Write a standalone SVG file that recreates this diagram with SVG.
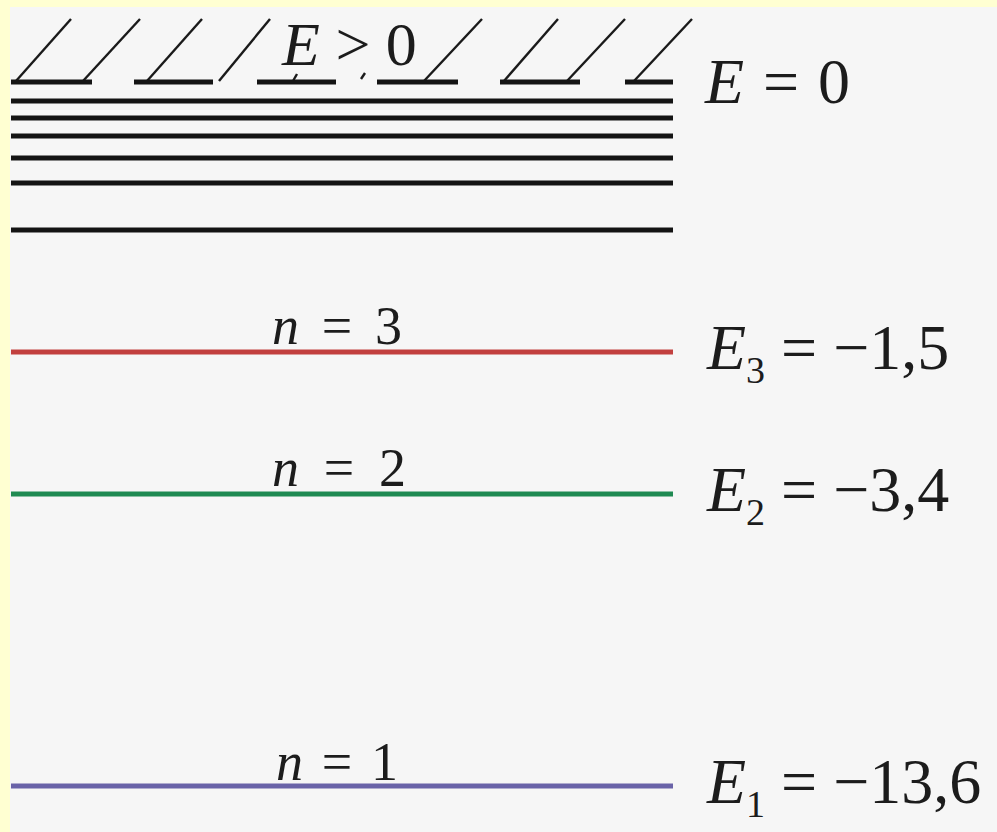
<svg xmlns="http://www.w3.org/2000/svg" width="997" height="832" viewBox="0 0 997 832">
<style>
.lvl{stroke-width:5;fill:none;stroke-linecap:butt}
.blk{stroke:#141414}
.hatch{stroke:#1a1a1a;stroke-width:2.4;fill:none}
text{font-family:"Liberation Serif","Times New Roman",serif;fill:#1c1c1c}
.it{font-style:italic}
.lab{font-size:54px}
.top{font-size:62px}
.en{font-size:64px}
.sub{font-size:38px}
</style>
<rect x="0" y="0" width="997" height="832" fill="#FFFFD2"/>
<rect x="10" y="7" width="987" height="825" fill="#F6F6F6"/>
<g id="continuum">
<g class="hatch">
<line x1="16" y1="81" x2="71" y2="19"/>
<line x1="83" y1="81" x2="140" y2="19"/>
<line x1="147" y1="81" x2="202" y2="19"/>
<line x1="219" y1="81" x2="270" y2="19"/>
<line x1="293" y1="81" x2="297" y2="74"/>
<line x1="361" y1="79" x2="365" y2="73"/>
<line x1="424" y1="81" x2="482" y2="19"/>
<line x1="504" y1="81" x2="558" y2="19"/>
<line x1="567" y1="81" x2="625" y2="19"/>
<line x1="634" y1="81" x2="692" y2="19"/>
</g>
<g class="lvl blk">
<line x1="11" y1="82" x2="92" y2="82"/>
<line x1="134" y1="82" x2="213" y2="82"/>
<line x1="257" y1="82" x2="336" y2="82"/>
<line x1="377" y1="82" x2="458" y2="82"/>
<line x1="500" y1="82" x2="580" y2="82"/>
<line x1="625" y1="82" x2="673" y2="82"/>
<line x1="11" y1="101" x2="673" y2="101"/>
<line x1="11" y1="118" x2="673" y2="118"/>
<line x1="11" y1="136" x2="673" y2="136"/>
<line x1="11" y1="158" x2="673" y2="158"/>
<line x1="11" y1="183" x2="673" y2="183"/>
<line x1="11" y1="230" x2="673" y2="230"/>
</g>
<text class="top" x="282" y="65"><tspan class="it">E</tspan> &gt; 0</text>
<text class="en" x="705" y="103" textLength="145" lengthAdjust="spacing"><tspan class="it">E</tspan> = 0</text>
</g>
<g id="level3">
<line class="lvl" x1="11" y1="352" x2="673" y2="352" stroke="#C2403F"/>
<text class="lab" x="272" y="344" textLength="130" lengthAdjust="spacing"><tspan class="it">n</tspan> = 3</text>
<text class="en" x="707" y="369"><tspan class="it">E</tspan><tspan class="sub" dy="14">3</tspan><tspan dy="-14"> = −1,5</tspan></text>
</g>
<g id="level2">
<line class="lvl" x1="11" y1="494" x2="673" y2="494" stroke="#1F8A52"/>
<text class="lab" x="272" y="486" textLength="134" lengthAdjust="spacing"><tspan class="it">n</tspan> = 2</text>
<text class="en" x="707" y="511"><tspan class="it">E</tspan><tspan class="sub" dy="14">2</tspan><tspan dy="-14"> = −3,4</tspan></text>
</g>
<g id="level1">
<line class="lvl" x1="11" y1="786" x2="673" y2="786" stroke="#6A63A8"/>
<text class="lab" x="276" y="780" textLength="122" lengthAdjust="spacing"><tspan class="it">n</tspan> = 1</text>
<text class="en" x="707" y="803"><tspan class="it">E</tspan><tspan class="sub" dy="14">1</tspan><tspan dy="-14"> = −13,6</tspan></text>
</g>
</svg>
